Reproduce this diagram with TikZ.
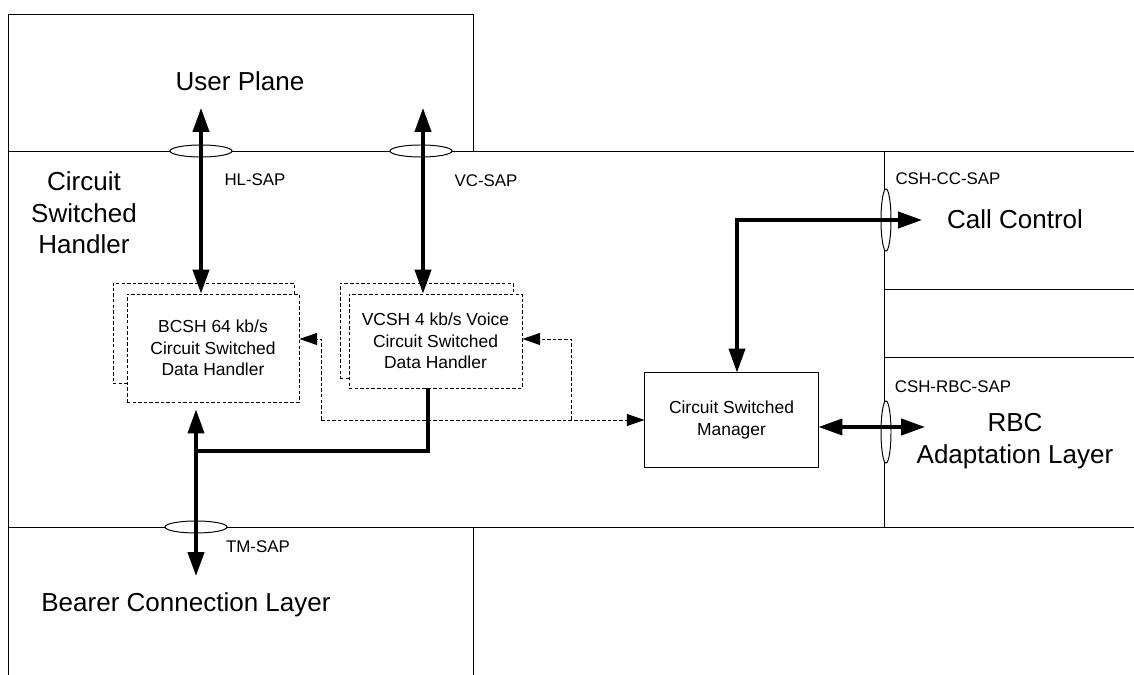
\documentclass[tikz,border=0pt]{standalone}
\usepackage{fontspec}
\setmainfont{Liberation Sans}
\usetikzlibrary{arrows.meta,shapes.geometric}

\begin{document}
\begin{tikzpicture}[x=0.025cm, y=-0.025cm,
    region/.style={line width=0.7pt},
    layertext/.style={font=\fontsize{18.5}{22.5}\selectfont, align=center, inner sep=0pt},
    saptext/.style={font=\fontsize{12}{14}\selectfont, inner sep=0pt},
    sapring/.style={draw, ellipse, fill=white, line width=0.7pt, inner sep=0pt},
    handler/.style={draw, fill=white, line width=0.6pt, dash pattern=on 2.5pt off 1.5pt,
      align=center, font=\fontsize{12.4}{15.2}\selectfont, inner sep=0pt},
    manager/.style={draw, fill=white, line width=0.7pt,
      align=center, font=\fontsize{12.4}{15.6}\selectfont, inner sep=0pt},
    bigarrow/.style={line width=2.4pt, >={Triangle[length=17pt, width=11.5pt]}, <->},
    feed/.style={line width=2.4pt},
    ctrl/.style={line width=0.7pt, dash pattern=on 2.5pt off 1.5pt,
      >={Triangle[length=12.5pt, width=8.5pt]}, ->}]
  \useasboundingbox (0,0) rectangle (1134,675);

  % Layer regions
  \draw[region] (8,151) -- (8,14) -- (473,14) -- (473,151);
  \draw[region] (8,151) -- (1134,151);
  \draw[region] (8,151) -- (8,675);
  \draw[region] (8,527) -- (1134,527);
  \draw[region] (473,527) -- (473,675);
  \draw[region] (884,151) -- (884,527);
  \draw[region] (884,289) -- (1134,289);
  \draw[region] (884,357) -- (1134,357);

  % Layer names
  \node[layertext] (userplane) at (240,81) {User Plane};
  \node[layertext, font=\fontsize{18.5}{22.3}\selectfont] (cshname) at (84,213) {Circuit\\Switched\\Handler};
  \node[layertext] (bearer) at (186,605) {Bearer Connection Layer};
  \node[layertext] (callctl) at (1015,219) {Call Control};
  \node[layertext, font=\fontsize{18.5}{22.7}\selectfont] (rbclayer) at (1015,441) {RBC\\Adaptation Layer};

  % Service access points
  \node[sapring, minimum width=1.55cm, minimum height=0.3cm] (hlring) at (201,151) {};
  \node[sapring, minimum width=1.55cm, minimum height=0.3cm] (vcring) at (421,151) {};
  \node[sapring, minimum width=1.55cm, minimum height=0.3cm] (tmring) at (196,527) {};
  \node[sapring, minimum width=0.25cm, minimum height=1.55cm] (ccring) at (886,220) {};
  \node[sapring, minimum width=0.25cm, minimum height=1.55cm] (rbcring) at (886,432) {};
  \node[saptext] (hlsap) at (255,180) {HL-SAP};
  \node[saptext] (vcsap) at (486,181) {VC-SAP};
  \node[saptext] (tmsap) at (258,547) {TM-SAP};
  \node[saptext] (ccsap) at (948,179) {CSH-CC-SAP};
  \node[saptext] (rbcsap) at (953,387) {CSH-RBC-SAP};

  % Handlers (stacked instances)
  \node[handler, minimum width=4.525cm, minimum height=2.5cm] (bcshback) at (203.5,333) {};
  \node[handler, minimum width=4.3cm, minimum height=2.7cm] (bcsh) at (213,348)
    {BCSH 64 kb/s\\Circuit Switched\\Data Handler};
  \node[handler, minimum width=4.325cm, minimum height=2.375cm] (vcshback) at (426.5,330.5) {};
  \node[handler, minimum width=4.325cm, minimum height=2.35cm] (vcsh) at (435.5,341)
    {VCSH 4 kb/s Voice\\Circuit Switched\\Data Handler};
  \node[manager, minimum width=4.325cm, minimum height=2.35cm] (csm) at (731.5,420)
    {Circuit Switched\\Manager};

  % Bend points
  \coordinate (hltop) at (201,108);
  \coordinate (vctop) at (423,108);
  \coordinate (tmend) at (196,576);
  \coordinate (vbend) at (428,451);
  \coordinate (ccbend) at (737,220);
  \coordinate (cctip) at (922,220);
  \coordinate (rbctip) at (925,427);
  \coordinate (dA) at (321,420);
  \coordinate (dB) at (571,420);
  \coordinate (dC) at (321,339);
  \coordinate (dD) at (571,339);

  % User plane data
  \draw[bigarrow] (hltop) -- (hltop |- bcsh.north);
  \draw[bigarrow] (vctop) -- (vctop |- vcsh.north);

  % Bearer side
  \draw[bigarrow, shorten <=5pt] (bcsh.south -| tmend) -- (tmend);
  \draw[feed] (vcsh.south -| vbend) -- (vbend) -- (vbend -| tmend);

  % Control towards call control and RBC
  \draw[bigarrow] (csm.north -| ccbend) -- (ccbend) -- (cctip);
  \draw[bigarrow] (csm.east |- rbctip) -- (rbctip);

  % Manager control of handlers
  \draw[ctrl] (dA) -- (csm.west |- dA);
  \draw[ctrl] (dA) -- (dC) -- (bcsh.east |- dC);
  \draw[ctrl] (dB) -- (dD) -- (vcsh.east |- dD);
\end{tikzpicture}
\end{document}
